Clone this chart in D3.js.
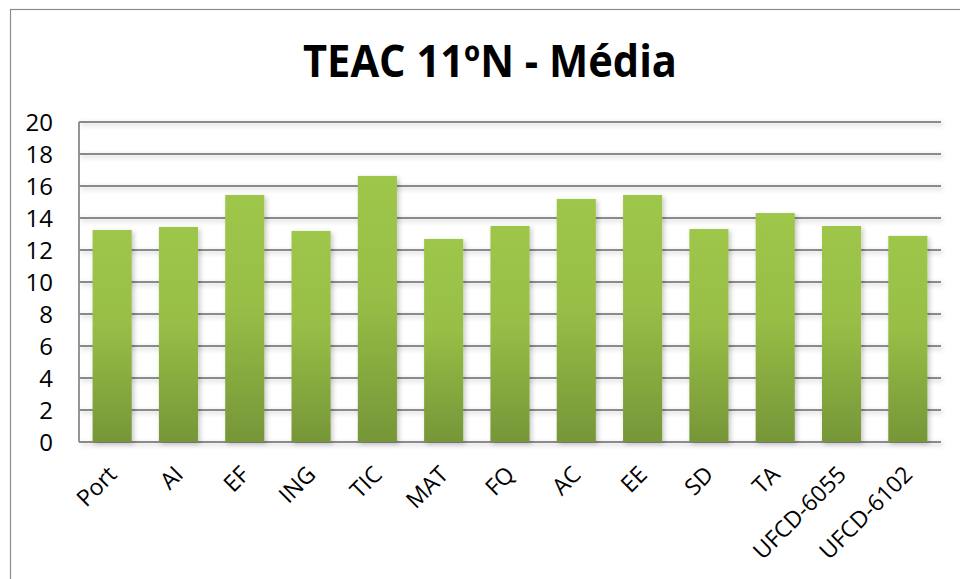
<!DOCTYPE html>
<meta charset="utf-8">
<script src="https://d3js.org/d3.v7.min.js"></script>
<style>
  body { margin: 0; background: #fff; }
  text { font-family: "Open Sans", "Noto Sans", sans-serif; fill: #000; }
</style>
<div id="chart"></div>
<script>
  var categories = ["Port", "AI", "EF", "ING", "TIC", "MAT", "FQ", "AC", "EE", "SD", "TA", "UFCD-6055", "UFCD-6102"];
  var values = [13.25, 13.44, 15.44, 13.19, 16.63, 12.69, 13.5, 15.19, 15.44, 13.31, 14.31, 13.5, 12.88];
  var yTicks = [0, 2, 4, 6, 8, 10, 12, 14, 16, 18, 20];
  var title = "TEAC 11ºN - Média";

  var W = 960, H = 579;
  var plot = {left: 79, right: 941, top: 122, bottom: 442};

  var svg = d3.select("#chart").append("svg")
      .attr("width", W)
      .attr("height", H);

  var defs = svg.append("defs");
  var grad = defs.append("linearGradient")
      .attr("id", "barGrad")
      .attr("x1", 0).attr("y1", 0).attr("x2", 0).attr("y2", 1);
  grad.append("stop").attr("offset", "0%").attr("stop-color", "#9ec64a");
  grad.append("stop").attr("offset", "45%").attr("stop-color", "#98be46");
  grad.append("stop").attr("offset", "100%").attr("stop-color", "#769638");

  var shadow = defs.append("filter").attr("id", "shadow")
      .attr("x", "-20%").attr("y", "-20%").attr("width", "160%").attr("height", "140%");
  shadow.append("feDropShadow")
      .attr("dx", 2).attr("dy", 2).attr("stdDeviation", 2.5)
      .attr("flood-color", "#000").attr("flood-opacity", 0.22);

  // outer chart border
  svg.append("rect")
      .attr("x", 10.5).attr("y", 9.5)
      .attr("width", 1000).attr("height", 1000)
      .attr("fill", "none")
      .attr("stroke", "#8c8c8c")
      .attr("stroke-width", 1.2);

  svg.append("text")
      .attr("x", 490)
      .attr("y", 77)
      .attr("text-anchor", "middle")
      .attr("textLength", 374)
      .attr("lengthAdjust", "spacingAndGlyphs")
      .style("font-size", "44px")
      .style("font-weight", "bold")
      .text(title);

  var x = d3.scaleBand()
      .domain(categories)
      .range([plot.left, plot.right])
      .paddingInner(0.41)
      .paddingOuter(0.205);

  var y = d3.scaleLinear()
      .domain([0, 20])
      .range([plot.bottom, plot.top]);

  // gridlines
  svg.append("g")
      .attr("filter", "url(#shadow)")
    .selectAll("line")
    .data(yTicks)
    .enter()
    .append("line")
      .attr("x1", plot.left)
      .attr("x2", plot.right)
      .attr("y1", d => y(d))
      .attr("y2", d => y(d))
      .attr("stroke", "#8a8a8a")
      .attr("stroke-width", 1.8);

  // left axis line
  svg.append("line")
      .attr("x1", plot.left).attr("x2", plot.left)
      .attr("y1", plot.top).attr("y2", plot.bottom)
      .attr("stroke", "#8a8a8a")
      .attr("stroke-width", 1.8);

  svg.append("g")
    .selectAll("text")
    .data(yTicks)
    .enter()
    .append("text")
      .attr("x", 53)
      .attr("y", d => y(d))
      .attr("dy", "0.36em")
      .attr("text-anchor", "end")
      .style("font-size", "24px")
      .text(d => d);

  svg.append("g")
      .attr("filter", "url(#shadow)")
    .selectAll("rect")
    .data(values)
    .enter()
    .append("rect")
      .attr("x", (d, i) => x(categories[i]))
      .attr("y", d => y(d))
      .attr("width", x.bandwidth())
      .attr("height", d => y(0) - y(d))
      .attr("fill", "url(#barGrad)");

  svg.append("g")
    .selectAll("text")
    .data(categories)
    .enter()
    .append("text")
      .attr("text-anchor", "end")
      .attr("transform", d => "translate(" + (x(d) + x.bandwidth() / 2 + 6) + ",476) rotate(-45)")
      .style("font-size", "23px")
      .text(d => d);
</script>
